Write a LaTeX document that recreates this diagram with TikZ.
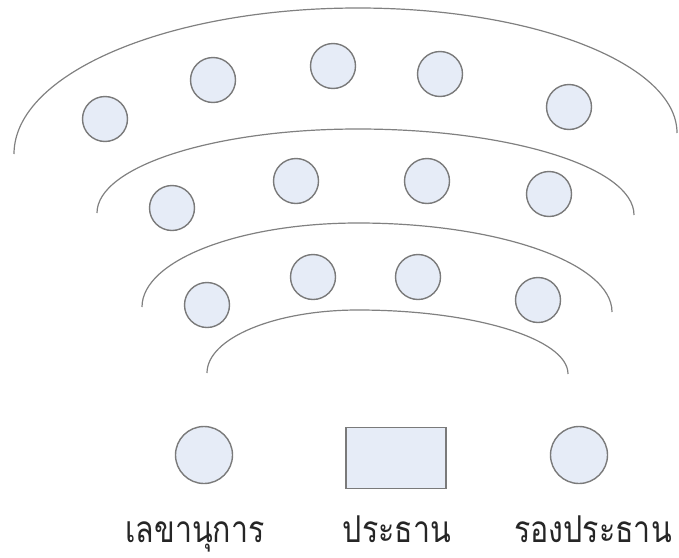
\documentclass[tikz,border=0pt]{standalone}
\usepackage{fontspec}
\newfontfamily\thaifont[Script=Thai,FakeStretch=0.82]{Loma}
\usetikzlibrary{positioning}
\definecolor{seatfill}{HTML}{E6ECF7}
\definecolor{seatline}{HTML}{7A7A7A}
\definecolor{rowline}{HTML}{808080}
\definecolor{labeltext}{HTML}{262626}
\tikzset{
  seat/.style={circle,draw=seatline,fill=seatfill,line width=1.4pt,minimum size=45pt,inner sep=0pt},
  bigseat/.style={seat,minimum size=57pt},
  chairbox/.style={draw=seatline,fill=seatfill,line width=1.6pt,minimum width=100pt,minimum height=61pt,inner sep=0pt},
  rowarc/.style={draw=rowline,line width=1.2pt},
  role/.style={font=\thaifont\fontsize{37}{37}\selectfont,text=labeltext,anchor=base,inner sep=0pt}
}

\begin{document}
\begin{tikzpicture}[x=1pt,y=-1pt]
  \useasboundingbox (0,0) rectangle (679,557);

  % rows of the hall
  \draw[rowarc] (14,154) .. controls (14,73.4) and (168.1,8) .. (358,8) .. controls (534.1,8) and (677,64) .. (677,133);
  \draw[rowarc] (97,213) .. controls (97,166.6) and (213.9,129) .. (358,129) .. controls (510.4,129) and (634,167.5) .. (634,215);
  \draw[rowarc] (142,307) .. controls (142,260.6) and (238.8,223) .. (358,223) .. controls (498.2,223) and (612,262.9) .. (612,312);
  \draw[rowarc] (207,373) .. controls (207,338.2) and (274.6,310) .. (358,310) .. controls (473.9,310) and (568,338.7) .. (568,374);

  % back row
  \node[seat] (a1) at (105,119) {};
  \node[seat] (a2) at (213,80) {};
  \node[seat] (a3) at (333,66) {};
  \node[seat] (a4) at (440,74) {};
  \node[seat] (a5) at (569,107) {};

  % middle row
  \node[seat] (b1) at (172,208) {};
  \node[seat] (b2) at (296,181) {};
  \node[seat] (b3) at (427,181) {};
  \node[seat] (b4) at (549,194) {};

  % front row
  \node[seat] (c1) at (207,305) {};
  \node[seat] (c2) at (313,277) {};
  \node[seat] (c3) at (418,277) {};
  \node[seat] (c4) at (538,300) {};

  % head table
  \node[bigseat] (secretary) at (204,455) {};
  \node[chairbox] (chair) at (396,458) {};
  \node[bigseat] (vice) at (579,455) {};

  \node[role] (secretarylabel) at (195,542) {เลขานุการ};
  \node[role] (chairlabel) at (397,542) {ประธาน};
  \node[role] (vicelabel) at (593,542) {รองประธาน};

\end{tikzpicture}
\end{document}
